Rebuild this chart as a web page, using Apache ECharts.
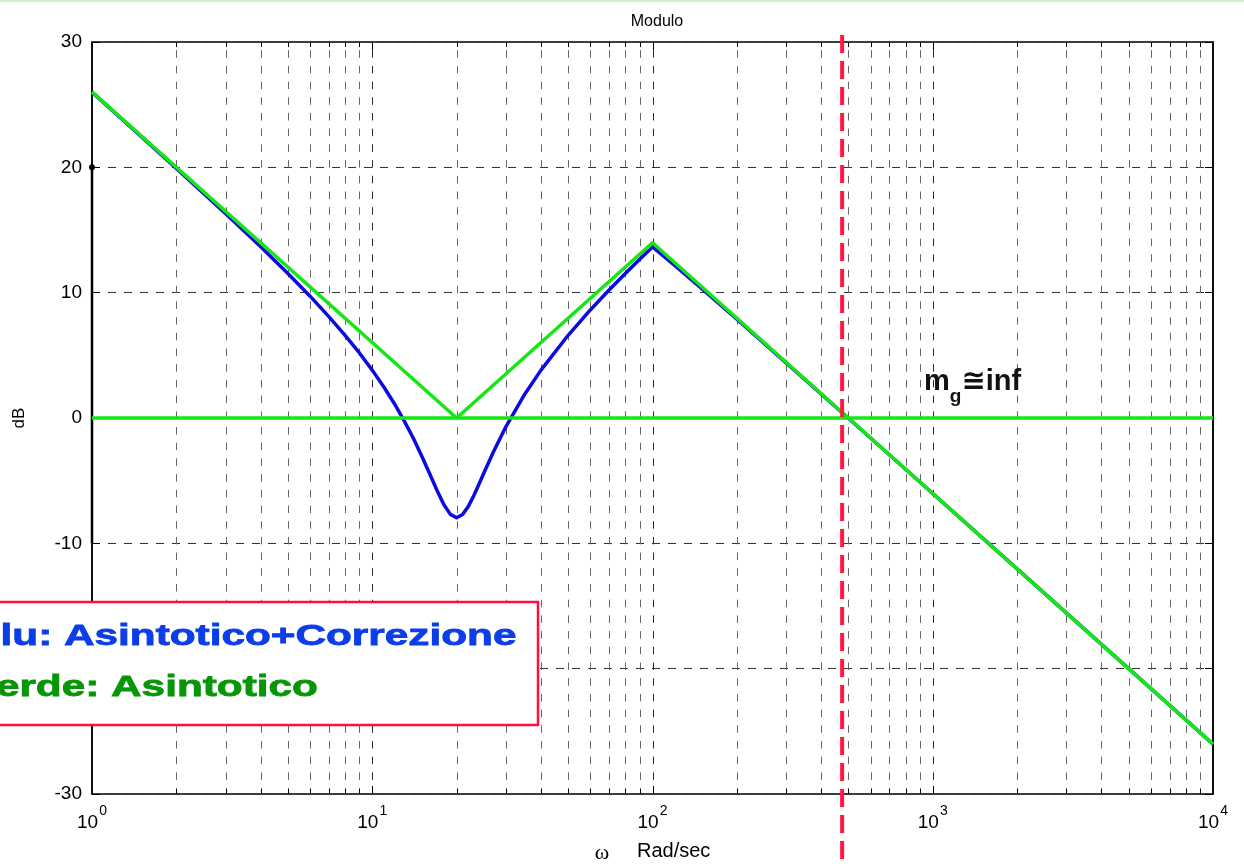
<!DOCTYPE html>
<html>
<head>
<meta charset="utf-8">
<title>Modulo</title>
<script src="https://cdn.jsdelivr.net/npm/echarts@6/dist/echarts.min.js"></script>
<style>
  html, body { margin: 0; padding: 0; background: #ffffff; }
  #chart { width: 1244px; height: 864px; }
</style>
</head>
<body>
<div id="chart"></div>
<script>
// Modulo corretto (curva blu): pulsazione [rad/s] e modulo [dB]
const omegaBlu = [1, 1.5, 2, 3, 4, 5, 6, 7, 8, 9, 10, 11, 12, 13, 14, 15, 16, 17, 18, 19, 20,
                  21, 22, 23, 24, 25, 27, 30, 35, 40, 50, 60, 70, 80, 90, 100,
                  120, 150, 200, 300, 500, 1000, 2000, 5000, 10000];
const dbBlu = [26.0, 22.45, 19.92, 16.3, 13.66, 11.53, 9.72, 8.09, 6.6, 5.19, 3.82, 2.47, 1.14, -0.23, -1.6, -3.01, -4.41, -5.74, -6.9, -7.69, -7.96,
               -7.7, -7.07, -6.22, -5.31, -4.41, -2.75, -0.68, 1.9, 3.82, 6.6, 8.62, 10.21, 11.53, 12.67, 13.65,
               12.17, 10.32, 7.88, 4.4, -0.02, -6.02, -12.04, -20.0, -26.02];

// Diagramma asintotico (curva verde)
const omegaVerde = [1, 20, 100, 10000];
const dbVerde = [26.02, 0, 13.98, -26.02];

// Retta a 0 dB
const omegaZero = [1, 10000];
const dbZero = [0, 0];

// Tratto nero sull'asse delle ordinate
const omegaNero = [1, 1];
const dbNero = [20, -10];

// Pulsazione di attraversamento (linea rossa tratteggiata)
const omegaTaglio = 475;

// Assi
const yMin = -30, yMax = 30, yPasso = 10;
const decadi = [1, 10, 100, 1000, 10000];
const multipliMinori = [2, 3, 4, 5, 6, 7, 8, 9];

// Posizioni della griglia verticale: [pulsazione, 0, principale?]
const grigliaX = [];
decadi.slice(0, -1).forEach(function (d, i) {
  if (i > 0) grigliaX.push([d, 0, 1]);
  multipliMinori.forEach(function (m) { grigliaX.push([d * m, 0, 0]); });
});

const coppie = (xs, ys) => xs.map((x, i) => [x, ys[i]]);

const chart = echarts.init(document.getElementById('chart'), null, { renderer: 'canvas' });

const fontDidascalia = 'bold 30px "Liberation Sans", Arial, sans-serif';

const option = {
  animation: false,
  backgroundColor: '#ffffff',
  textStyle: { fontFamily: '"Liberation Sans", Arial, sans-serif' },
  title: {
    text: 'Modulo',
    left: 652,
    top: 9,
    textAlign: 'center',
    textStyle: { fontSize: 16, fontWeight: 'normal', color: '#000' }
  },
  grid: {
    left: 92, right: 31, top: 42, bottom: 70,
    outerBoundsMode: 'none',
    containLabel: false,
    show: true, borderColor: '#000', borderWidth: 1.5, backgroundColor: 'transparent'
  },
  xAxis: {
    type: 'log',
    logBase: 10,
    min: 1,
    max: 10000,
    name: '{w|ω}     Rad/sec',
    nameLocation: 'middle',
    nameGap: 45,
    nameTextStyle: {
      fontSize: 20, color: '#000',
      rich: {
        w: { fontSize: 22, fontFamily: '"Liberation Serif", "DejaVu Serif", serif', color: '#000', padding: [3, 0, 0, 0] }
      }
    },
    axisLine: { show: true, lineStyle: { color: '#000', width: 1.5 } },
    axisTick: { show: false },
    splitLine: { show: false },
    axisLabel: {
      margin: 10,
      formatter: function (v) {
        return '{b|10}{e|' + Math.round(Math.log10(v)) + '}';
      },
      rich: {
        b: { fontSize: 19, color: '#000', padding: [6, 0, 0, 0] },
        e: { fontSize: 14, color: '#000', padding: [0, 0, 18, 1] }
      }
    }
  },
  yAxis: [
    {
      type: 'value',
      min: yMin, max: yMax, interval: yPasso,
      name: 'dB',
      nameLocation: 'middle',
      nameGap: 64,
      nameTextStyle: { fontSize: 17, color: '#000' },
      axisLine: { show: true, lineStyle: { color: '#000', width: 1.5 } },
      axisTick: { show: true, inside: true, length: 8, lineStyle: { color: '#000' } },
      axisLabel: { fontSize: 19, color: '#000', margin: 10 },
      splitLine: { show: true, lineStyle: { color: '#333', width: 1, type: [8, 8] } }
    },
    {
      type: 'value',
      position: 'right',
      min: yMin, max: yMax, interval: yPasso,
      axisLine: { show: true, lineStyle: { color: '#000', width: 1.5 } },
      axisTick: { show: true, inside: true, length: 8, lineStyle: { color: '#000' } },
      axisLabel: { show: false },
      splitLine: { show: false }
    }
  ],
  graphic: [
    // filo verde in cima alla figura
    { type: 'rect', z: 100, shape: { x: 0, y: 0, width: 1244, height: 2 }, style: { fill: '#c9f7c9' } },
    // riquadro della didascalia
    {
      type: 'rect', z: 100,
      shape: { x: -40, y: 602, width: 578, height: 123 },
      style: { fill: '#ffffff', stroke: '#ff0f3f', lineWidth: 2.5 }
    },
    {
      type: 'text', z: 101, x: -30, y: 637, scaleX: 1.41,
      style: {
        text: 'Blu: Asintotico+Correzione',
        font: fontDidascalia,
        fill: '#0b3de8', stroke: '#0b3de8', lineWidth: 0.8,
        verticalAlign: 'middle', align: 'left'
      }
    },
    {
      type: 'text', z: 101, x: -30, y: 688, scaleX: 1.41,
      style: {
        text: 'Verde: Asintotico',
        font: fontDidascalia,
        fill: '#079607', stroke: '#079607', lineWidth: 0.8,
        verticalAlign: 'middle', align: 'left'
      }
    },
    // margine di guadagno
    {
      type: 'text', z: 101, x: 924, y: 382,
      style: {
        text: '{a|m}{g|g}{a|≅inf}',
        verticalAlign: 'middle', align: 'left',
        rich: {
          a: { font: 'bold 29px "Liberation Sans", "DejaVu Sans", sans-serif', fill: '#111' },
          g: { font: 'bold 19px "Liberation Sans", "DejaVu Sans", sans-serif', fill: '#111', padding: [29, 0, 0, 0] }
        }
      }
    }
  ],
  series: [
    {
      // griglia verticale tratteggiata e tacche sugli assi orizzontali
      type: 'custom',
      name: 'griglia',
      silent: true,
      z: 1,
      clip: false,
      xAxisIndex: 0, yAxisIndex: 0,
      encode: { x: 0, y: 1 },
      data: grigliaX,
      renderItem: function (params, api) {
        const v = api.value(0);
        const principale = api.value(2) === 1;
        const alto = api.coord([v, yMax]);
        const basso = api.coord([v, yMin]);
        const x = Math.round(alto[0]) + 0.5;
        const t = principale ? 8 : 5;
        return {
          type: 'group',
          children: [
            {
              type: 'line',
              shape: { x1: x, y1: alto[1], x2: x, y2: basso[1] },
              style: { stroke: principale ? '#2a2a2a' : '#666666', lineWidth: 1, lineDash: [7.5, 8.2], lineDashOffset: 7.5 }
            },
            { type: 'line', shape: { x1: x, y1: basso[1], x2: x, y2: basso[1] - t }, style: { stroke: '#000', lineWidth: 1 } },
            { type: 'line', shape: { x1: x, y1: alto[1], x2: x, y2: alto[1] + t }, style: { stroke: '#000', lineWidth: 1 } }
          ]
        };
      }
    },
    {
      type: 'line',
      name: 'asse',
      z: 3,
      data: coppie(omegaNero, dbNero).map(function (p, i) {
        return i === 0 ? { value: p, symbol: 'circle', symbolSize: 6 } : { value: p, symbol: 'none' };
      }),
      showSymbol: true,
      itemStyle: { color: '#000' },
      lineStyle: { color: '#000', width: 2.5 }
    },
    {
      type: 'line',
      name: 'Blu: Asintotico+Correzione',
      z: 4,
      data: coppie(omegaBlu, dbBlu),
      showSymbol: false,
      lineStyle: { color: '#0b0be0', width: 3.5, join: 'round' }
    },
    {
      type: 'line',
      name: 'Verde: Asintotico',
      z: 5,
      data: coppie(omegaVerde, dbVerde),
      showSymbol: false,
      lineStyle: { color: '#16e616', width: 3.5, join: 'round' }
    },
    {
      type: 'line',
      name: '0 dB',
      z: 5,
      data: coppie(omegaZero, dbZero),
      showSymbol: false,
      lineStyle: { color: '#16e616', width: 3.5 }
    },
    {
      // pulsazione di attraversamento
      type: 'custom',
      name: 'taglio',
      silent: true,
      z: 8,
      clip: false,
      encode: { x: 0, y: 1 },
      data: [[omegaTaglio, 0]],
      renderItem: function (params, api) {
        const p = api.coord([api.value(0), yMax]);
        return {
          type: 'line',
          shape: { x1: p[0], y1: p[1] - 7, x2: p[0], y2: api.getHeight() },
          style: { stroke: '#ff1744', lineWidth: 4, lineDash: [18, 8] }
        };
      }
    }
  ]
};

chart.setOption(option);
</script>
</body>
</html>
